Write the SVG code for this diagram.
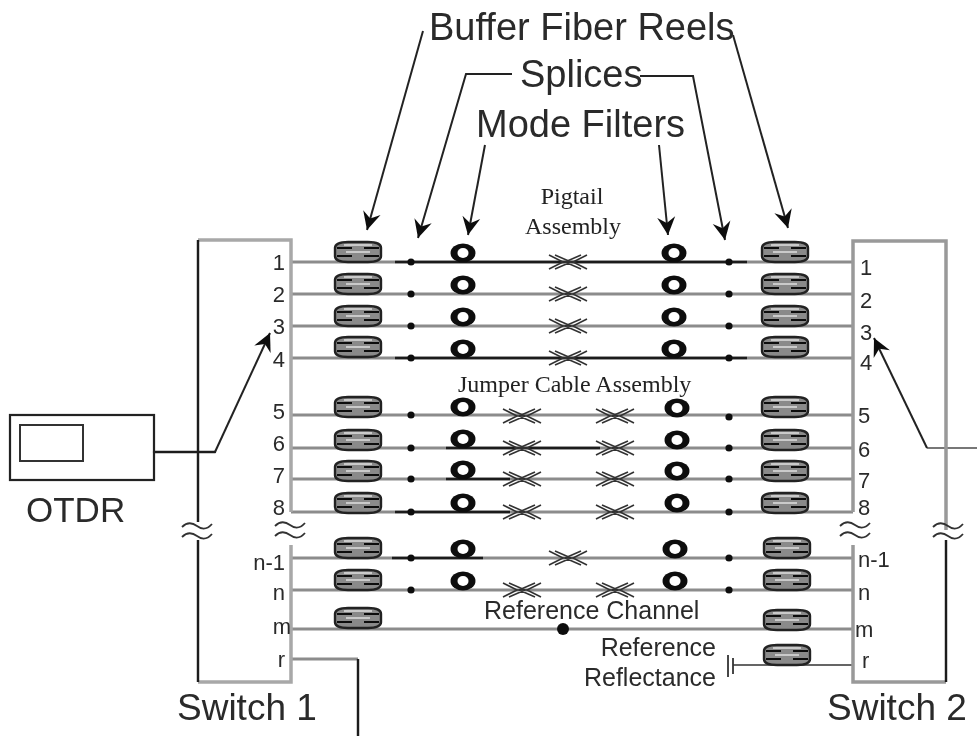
<svg xmlns="http://www.w3.org/2000/svg" width="977" height="736" viewBox="0 0 977 736">
<style>
text{font-family:"Liberation Sans",Arial,sans-serif;fill:#2a2a2a}
.serif{font-family:"Liberation Serif","Times New Roman",serif;fill:#222}
.big{font-size:38px}.sw{font-size:37px}.lab{font-size:22px}.mid{font-size:22px}.ref{font-size:25px}
.g{fill:none;stroke:#a8a8a8;stroke-width:3.5}
.ch{fill:none;stroke:#8c8c8c;stroke-width:3}
.k{fill:none;stroke:#1c1c1c;stroke-width:2.4}
.thin{fill:none;stroke:#333;stroke-width:1.6}
.arr{fill:none;stroke:#222;stroke-width:2;marker-end:url(#ah)}
</style>
<defs>
<filter id="soft" filterUnits="userSpaceOnUse" x="0" y="0" width="977" height="736"><feGaussianBlur stdDeviation="0.45"/></filter>
<marker id="ah" markerUnits="userSpaceOnUse" markerWidth="26" markerHeight="26" refX="20" refY="11" orient="auto">
<path d="M2 2 L20 11 L2 20 L8 11Z" fill="#111"/>
</marker>
<g id="reel">
<path d="M-23 -4Q-23 -10 -10 -10H10Q23 -10 23 -4V4Q23 10 10 10H-10Q-23 10 -23 4Z" fill="#8a8a8a" stroke="#222" stroke-width="2.4"/>
<path d="M-21 -4H-6M6 -4H21M-21 4H-6M6 4H21" fill="none" stroke="#111" stroke-width="1.8"/>
<path d="M-12 0H12M-14 -7H14" fill="none" stroke="#e0e0e0" stroke-width="1.6"/>
</g>
<g id="ring"><ellipse cx="0" cy="0" rx="12.5" ry="9.5" fill="#111"/><ellipse cx="0" cy="0" rx="5.5" ry="5" fill="#fff"/></g>
<circle id="splice" r="3.6" fill="#111"/>
<path id="conn" d="M-19 -7L-5 0L-19 7M-13 -7L3 0L-13 7M19 -7L5 0L19 7M13 -7L-3 0L13 7" fill="none" stroke="#333" stroke-width="1.6"/>
<path id="brk" d="M-15 -4Q-8 -11 0 -5T15 -7M-15 6Q-8 -1 0 5T15 3" fill="none" stroke="#333" stroke-width="1.8"/>
</defs>
<rect width="977" height="736" fill="#fff"/>
<g filter="url(#soft)">

<g id="connectors">
<g id="channels">
<path class="ch" d="M291 262H853M291 294H853M291 326H853M291 358H853M291 415H853M291 448H853M291 479H853M291 512H853M291 558H853M291 590H853M291 629H853"/>
<path class="k" d="M395 262H747M395 358H747M446 448H600M446 479H510M395 512H510M392 558H483"/>
<path class="ch" d="M291 659H358"/>
<path class="k" d="M358 659V736"/>
<path class="thin" d="M733 665H854"/>
<path class="k" d="M154 452H215" stroke-linecap="round"/>
<path class="thin" d="M927 448H977" style="stroke:#777;stroke-width:2"/>
</g>
<g id="arrows">
<path class="arr" d="M423 31L367 230"/>
<path class="arr" d="M512 74H466L418 238"/>
<path class="arr" d="M485 145L468 235"/>
<path class="arr" d="M659 145L668 235"/>
<path class="arr" d="M640 76H693L725 240"/>
<path class="arr" d="M733 35L788 228"/>
<path class="arr" d="M215 452L270 333"/>
<path class="arr" d="M927 448L874 338"/>
</g>
</g>

<g id="switch1">
<path class="g" d="M198 240H291V512M291 545V682H198"/>
<path class="k" d="M198 240V522M198 540V682"/>
<use href="#brk" x="197" y="531"/>
<use href="#brk" x="290" y="530"/>
<text class="sw" x="177" y="720">Switch 1</text>
<g class="lab" text-anchor="end">
<text x="285" y="270">1</text><text x="285" y="302">2</text><text x="285" y="334">3</text><text x="285" y="367">4</text>
<text x="285" y="419">5</text><text x="285" y="451">6</text><text x="285" y="483">7</text><text x="285" y="515">8</text>
<text x="285" y="570" class="mid">n-1</text><text x="285" y="600" class="mid">n</text><text x="291" y="634" class="mid">m</text><text x="285" y="667" class="mid">r</text>
</g>
</g>

<g id="switch2">
<path class="g" d="M946 530V241H853V512M853 545V682H946" style="stroke:#999"/>
<path class="k" d="M946 540V682"/>
<use href="#brk" x="855" y="530"/>
<use href="#brk" x="948" y="531"/>
<text class="sw" x="827" y="720">Switch 2</text>
<g class="lab">
<text x="860" y="275">1</text><text x="860" y="308">2</text><text x="860" y="340">3</text><text x="860" y="370">4</text>
<text x="858" y="423">5</text><text x="858" y="457">6</text><text x="858" y="488">7</text><text x="858" y="515">8</text>
<text x="858" y="567" class="mid">n-1</text><text x="858" y="600" class="mid">n</text><text x="855" y="637" class="mid">m</text><text x="862" y="668" class="mid">r</text>
</g>
</g>

<g id="otdr">
<rect x="10" y="415" width="144" height="65" fill="none" stroke="#222" stroke-width="2.2"/>
<rect x="20" y="425" width="63" height="36" fill="none" stroke="#333" stroke-width="2"/>
<text x="26" y="522" style="font-size:35px">OTDR</text>
</g>

<g id="reels-left">
<use href="#reel" x="358" y="252"/><use href="#reel" x="358" y="284"/><use href="#reel" x="358" y="316"/><use href="#reel" x="358" y="347"/>
<use href="#reel" x="358" y="407"/><use href="#reel" x="358" y="440"/><use href="#reel" x="358" y="471"/><use href="#reel" x="358" y="503"/>
<use href="#reel" x="358" y="548"/><use href="#reel" x="358" y="580"/><use href="#reel" x="358" y="618"/>
</g>
<g id="reels-right">
<use href="#reel" x="785" y="252"/><use href="#reel" x="785" y="284"/><use href="#reel" x="785" y="316"/><use href="#reel" x="785" y="347"/>
<use href="#reel" x="785" y="407"/><use href="#reel" x="785" y="440"/><use href="#reel" x="785" y="471"/><use href="#reel" x="785" y="503"/>
<use href="#reel" x="787" y="548"/><use href="#reel" x="787" y="580"/><use href="#reel" x="787" y="620"/><use href="#reel" x="787" y="655"/>
</g>

<g id="splices">
<use href="#splice" x="411" y="262"/><use href="#splice" x="411" y="294"/><use href="#splice" x="411" y="326"/><use href="#splice" x="411" y="358"/>
<use href="#splice" x="411" y="415"/><use href="#splice" x="411" y="448"/><use href="#splice" x="411" y="479"/><use href="#splice" x="411" y="512"/>
<use href="#splice" x="411" y="558"/><use href="#splice" x="411" y="590"/>
<use href="#splice" x="729" y="262"/><use href="#splice" x="729" y="294"/><use href="#splice" x="729" y="326"/><use href="#splice" x="729" y="358"/>
<use href="#splice" x="729" y="417"/><use href="#splice" x="729" y="448"/><use href="#splice" x="729" y="479"/><use href="#splice" x="729" y="512"/>
<use href="#splice" x="729" y="558"/><use href="#splice" x="729" y="590"/>
</g>

<g id="mode-filters">
<use href="#ring" x="463" y="253"/><use href="#ring" x="463" y="285"/><use href="#ring" x="463" y="317"/><use href="#ring" x="463" y="349"/>
<use href="#ring" x="463" y="407"/><use href="#ring" x="463" y="439"/><use href="#ring" x="463" y="470"/><use href="#ring" x="463" y="503"/>
<use href="#ring" x="463" y="549"/><use href="#ring" x="463" y="581"/>
<use href="#ring" x="674" y="253"/><use href="#ring" x="674" y="285"/><use href="#ring" x="674" y="317"/><use href="#ring" x="674" y="349"/>
<use href="#ring" x="677" y="408"/><use href="#ring" x="677" y="440"/><use href="#ring" x="677" y="471"/><use href="#ring" x="677" y="503"/>
<use href="#ring" x="675" y="549"/><use href="#ring" x="675" y="581"/>
</g>

<g id="fiber-connectors">
<use href="#conn" x="568" y="262"/><use href="#conn" x="568" y="294"/><use href="#conn" x="568" y="326"/><use href="#conn" x="568" y="358"/>
<use href="#conn" x="522" y="416"/><use href="#conn" x="522" y="448"/><use href="#conn" x="522" y="479"/><use href="#conn" x="522" y="512"/>
<use href="#conn" x="615" y="416"/><use href="#conn" x="615" y="448"/><use href="#conn" x="615" y="479"/><use href="#conn" x="615" y="512"/>
<use href="#conn" x="568" y="558"/><use href="#conn" x="522" y="590"/><use href="#conn" x="615" y="590"/>
</g>

<g id="reference-channel">
<circle cx="563" cy="629" r="6" fill="#111"/>
<text x="484" y="619" class="ref">Reference Channel</text>
</g>

<g id="reference-reflectance">
<path d="M728 655V677" stroke="#333" stroke-width="1.8" fill="none"/>
<path d="M733 658V674" stroke="#333" stroke-width="1.8" fill="none"/>
<text x="716" y="656" text-anchor="end" class="ref">Reference</text>
<text x="716" y="686" text-anchor="end" class="ref">Reflectance</text>
</g>

<g id="labels">
<text x="429" y="40" class="big">Buffer Fiber Reels</text>
<text x="520" y="87" class="big">Splices</text>
<text x="476" y="137" class="big">Mode Filters</text>
<text x="572" y="204" text-anchor="middle" class="serif" style="font-size:24px">Pigtail</text>
<text x="573" y="234" text-anchor="middle" class="serif" style="font-size:24px">Assembly</text>
<text x="458" y="392" class="serif" style="font-size:24px">Jumper Cable Assembly</text>
</g>
</g>
</svg>
